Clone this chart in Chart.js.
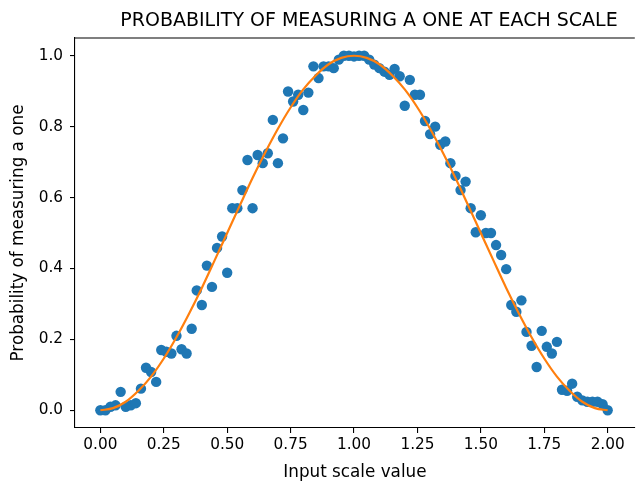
<!DOCTYPE html>
<html>
<head>
<meta charset="utf-8">
<script src="https://cdn.jsdelivr.net/npm/chart.js@4/dist/chart.umd.min.js"></script>
<style>
  html, body { margin: 0; padding: 0; overflow: hidden; background: #fff; }
  /* the axes box runs just past the right edge of the picture, so clip it */
  #wrap { width: 636px; height: 484px; overflow: hidden; position: relative; }
  #myChart { position: absolute; left: 0; top: 0; }
</style>
</head>
<body>
<div id="wrap"><canvas id="myChart" width="640" height="484"></canvas></div>
<script>
// measured points (input scale value -> probability)
var scaleValues = [
  0.00, 0.02, 0.04, 0.06, 0.08, 0.10, 0.12, 0.14, 0.16, 0.18,
  0.20, 0.22, 0.24, 0.26, 0.28, 0.30, 0.32, 0.34, 0.36, 0.38,
  0.40, 0.42, 0.44, 0.46, 0.48, 0.50, 0.52, 0.54, 0.56, 0.58,
  0.60, 0.62, 0.64, 0.66, 0.68, 0.70, 0.72, 0.74, 0.76, 0.78,
  0.80, 0.82, 0.84, 0.86, 0.88, 0.90, 0.92, 0.94, 0.96, 0.98,
  1.00, 1.02, 1.04, 1.06, 1.08, 1.10, 1.12, 1.14, 1.16, 1.18,
  1.20, 1.22, 1.24, 1.26, 1.28, 1.30, 1.32, 1.34, 1.36, 1.38,
  1.40, 1.42, 1.44, 1.46, 1.48, 1.50, 1.52, 1.54, 1.56, 1.58,
  1.60, 1.62, 1.64, 1.66, 1.68, 1.70, 1.72, 1.74, 1.76, 1.78,
  1.80, 1.82, 1.84, 1.86, 1.88, 1.90, 1.92, 1.94, 1.96, 1.98,
  2.00
];
var measuredProb = [
  0.000, 0.000, 0.010, 0.014, 0.052, 0.010, 0.014, 0.020, 0.061, 0.120,
  0.108, 0.080, 0.170, 0.165, 0.160, 0.210, 0.172, 0.160, 0.230, 0.338,
  0.297, 0.408, 0.348, 0.458, 0.490, 0.388, 0.570, 0.570, 0.621, 0.706,
  0.570, 0.720, 0.697, 0.725, 0.819, 0.697, 0.767, 0.899, 0.871, 0.890,
  0.847, 0.896, 0.970, 0.937, 0.970, 0.970, 0.965, 0.989, 1.000, 1.000,
  0.998, 1.000, 1.000, 0.989, 0.975, 0.965, 0.955, 0.946, 0.963, 0.942,
  0.859, 0.932, 0.890, 0.890, 0.816, 0.779, 0.800, 0.749, 0.758, 0.697,
  0.661, 0.621, 0.645, 0.570, 0.502, 0.550, 0.500, 0.500, 0.466, 0.438,
  0.398, 0.297, 0.278, 0.310, 0.221, 0.182, 0.122, 0.224, 0.179, 0.160,
  0.193, 0.058, 0.055, 0.075, 0.038, 0.028, 0.024, 0.024, 0.024, 0.017,
  0.000
];

// fitted curve
var fitX = [
  0.00, 0.05, 0.10, 0.15, 0.20, 0.25, 0.30, 0.35, 0.40, 0.45,
  0.50, 0.55, 0.60, 0.65, 0.70, 0.75, 0.80, 0.85, 0.90, 0.95,
  1.00, 1.05, 1.10, 1.15, 1.20, 1.25, 1.30, 1.35, 1.40, 1.45,
  1.50, 1.55, 1.60, 1.65, 1.70, 1.75, 1.80, 1.85, 1.90, 1.95,
  2.00
];
var fitY = [
  0.000, 0.006, 0.024, 0.055, 0.095, 0.146, 0.206, 0.273, 0.345, 0.422,
  0.500, 0.578, 0.655, 0.727, 0.794, 0.854, 0.905, 0.945, 0.976, 0.994,
  1.000, 0.994, 0.976, 0.945, 0.905, 0.854, 0.794, 0.727, 0.655, 0.578,
  0.500, 0.422, 0.345, 0.273, 0.206, 0.146, 0.095, 0.055, 0.024, 0.006,
  0.000
];

// tick labels
var xTicks = [0.00, 0.25, 0.50, 0.75, 1.00, 1.25, 1.50, 1.75, 2.00];
var yTicks = [0.0, 0.2, 0.4, 0.6, 0.8, 1.0];

var chartTitle = 'PROBABILITY OF MEASURING A ONE AT EACH SCALE';
var blue = '#1f77b4';
var orange = '#ff7f0e';
var fontFamily = 'DejaVu Sans';

var scatterPoints = scaleValues.map(function (v, i) { return {x: v, y: measuredProb[i]}; });
var fitPoints = fitX.map(function (v, i) { return {x: v, y: fitY[i]}; });

// top spine + the title (the picture's title sits a bit right of the axes centre)
var boxPlugin = {
  id: 'box',
  afterDraw: function (chart) {
    var a = chart.chartArea, ctx = chart.ctx;
    ctx.save();
    ctx.strokeStyle = '#000';
    ctx.lineWidth = 1.1;
    ctx.beginPath();
    ctx.moveTo(a.left, a.top);
    ctx.lineTo(a.right, a.top);
    ctx.stroke();
    ctx.fillStyle = '#000';
    ctx.font = '19px "' + fontFamily + '"';
    ctx.textAlign = 'center';
    ctx.textBaseline = 'middle';
    ctx.fillText(chartTitle, 369, 21);
    ctx.restore();
  }
};

var ctx = document.getElementById('myChart').getContext('2d');
var chart = new Chart(ctx, {
  type: 'scatter',
  data: {
    datasets: [
      {
        type: 'line',
        label: 'fit',
        data: fitPoints,
        borderColor: orange,
        borderWidth: 2.2,
        pointRadius: 0,
        fill: false,
        cubicInterpolationMode: 'monotone',
        order: 0
      },
      {
        label: 'measured',
        data: scatterPoints,
        backgroundColor: blue,
        borderColor: blue,
        borderWidth: 0,
        pointRadius: 5.2,
        order: 1
      }
    ]
  },
  options: {
    responsive: false,
    animation: false,
    events: [],
    layout: { padding: { top: 38, left: 0, right: 0, bottom: 0 } },
    plugins: {
      legend: { display: false },
      tooltip: { enabled: false },
      title: { display: false }
    },
    scales: {
      x: {
        type: 'linear',
        min: -0.1,
        max: 2.107,
        afterBuildTicks: function (s) { s.ticks = xTicks.map(function (v) { return {value: v}; }); },
        afterFit: function (s) { s.height = 56; },
        grid: { drawOnChartArea: false, drawTicks: true, tickLength: 5, color: '#000', lineWidth: 1.1 },
        border: { display: true, color: '#000', width: 1.1 },
        ticks: {
          color: '#000',
          padding: 3,
          maxRotation: 0,
          autoSkip: false,
          font: { family: fontFamily, size: 15.3 },
          callback: function (v) { return Number(v).toFixed(2); }
        },
        title: {
          display: true,
          text: 'Input scale value',
          color: '#000',
          font: { family: fontFamily, size: 16.8 },
          padding: { top: 0, bottom: 1 }
        }
      },
      y: {
        type: 'linear',
        min: -0.05,
        max: 1.05,
        afterBuildTicks: function (s) { s.ticks = yTicks.map(function (v) { return {value: v}; }); },
        afterFit: function (s) { s.width = 75; },
        grid: { drawOnChartArea: false, drawTicks: true, tickLength: 5, color: '#000', lineWidth: 1.1 },
        border: { display: true, color: '#000', width: 1.1 },
        ticks: {
          color: '#000',
          padding: 7,
          autoSkip: false,
          font: { family: fontFamily, size: 15.3 },
          callback: function (v) { return Number(v).toFixed(1); }
        },
        title: {
          display: true,
          text: 'Probability of measuring a one',
          color: '#000',
          font: { family: fontFamily, size: 16.8 },
          padding: { top: 9, bottom: 0 }
        }
      }
    }
  },
  plugins: [boxPlugin]
});
</script>
</body>
</html>
